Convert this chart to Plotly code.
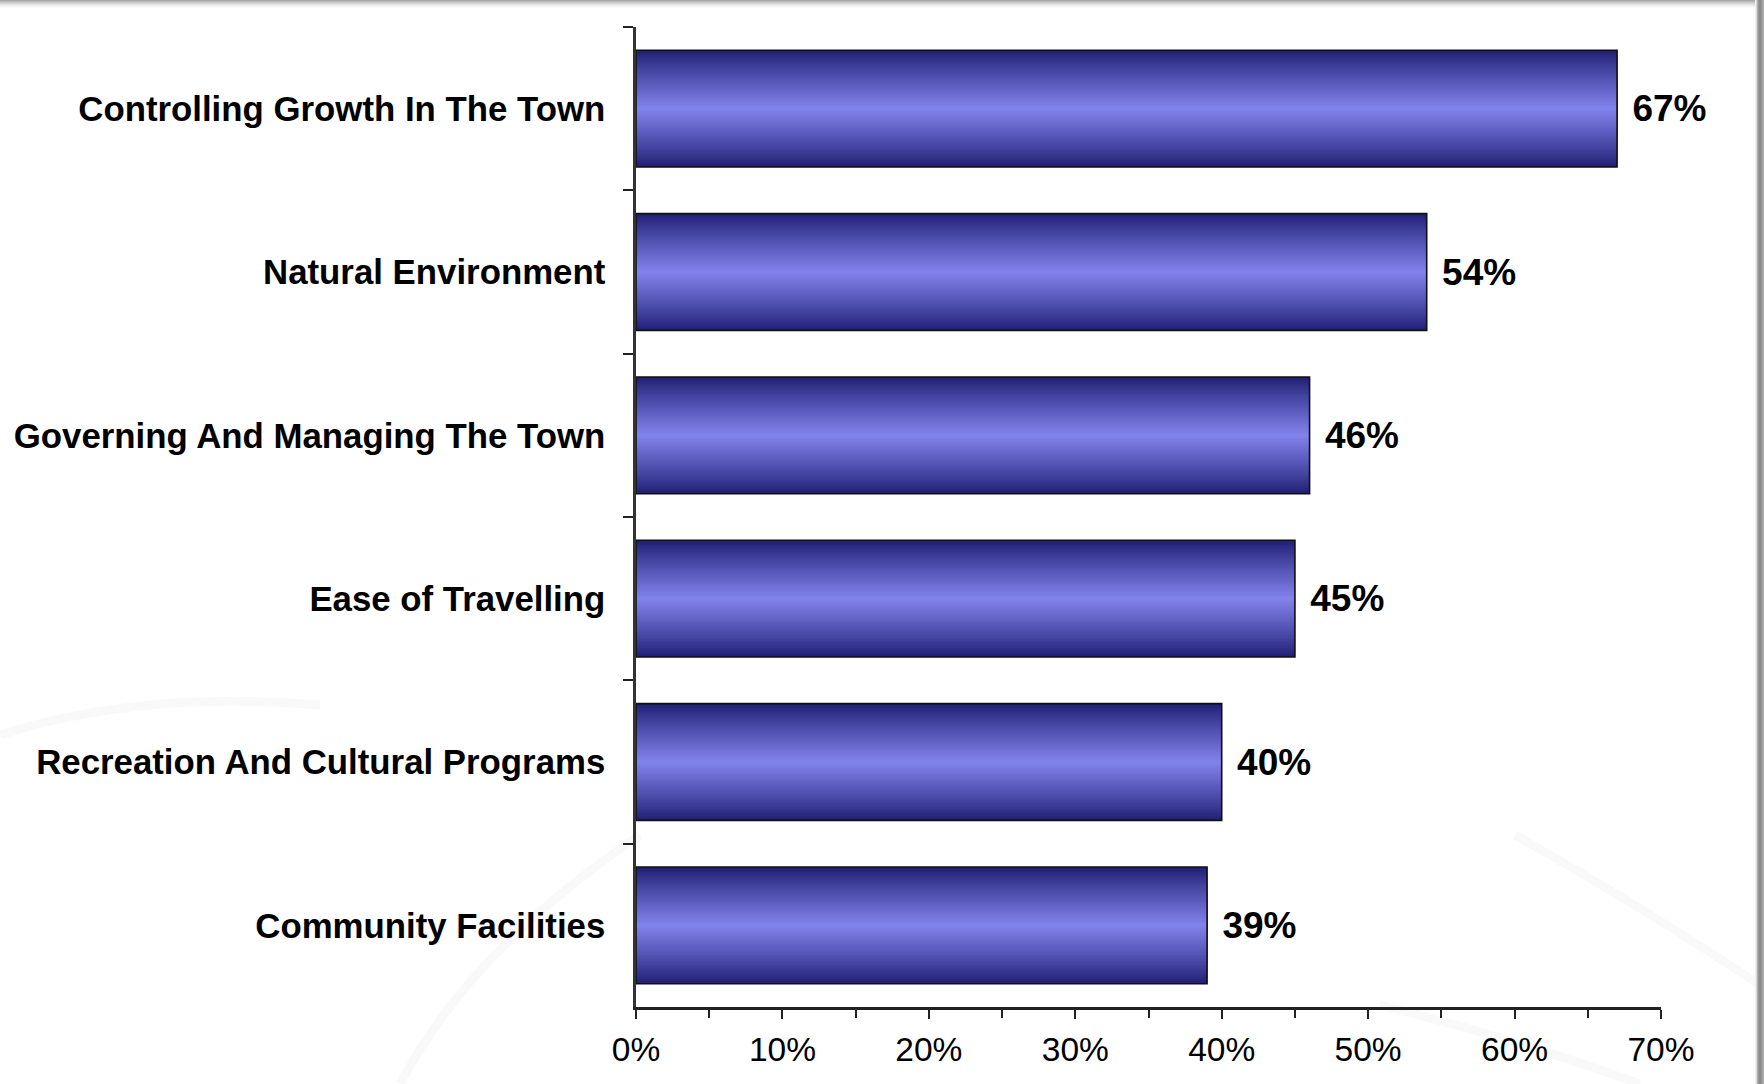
import plotly.graph_objects as go

# ---- data -------------------------------------------------------------
categories = [
    "Controlling Growth In The Town",
    "Natural Environment",
    "Governing And Managing The Town",
    "Ease of Travelling",
    "Recreation And Cultural Programs",
    "Community Facilities",
]
shares = [67, 54, 46, 45, 40, 39]
x_tick_values = [0, 10, 20, 30, 40, 50, 60, 70]
x_tick_labels = ["0%", "10%", "20%", "30%", "40%", "50%", "60%", "70%"]
x_minor_values = [5, 15, 25, 35, 45, 55, 65]

# ---- page geometry ----------------------------------------------------
W, H = 1764, 1084
ML, MR, MT, MB = 636, 103, 27, 77
FONT = "Arial, 'Liberation Sans', sans-serif"
BAR_WIDTH = 0.715

EDGE_RGB = (0x20, 0x20, 0x76)
MID_RGB = (0x84, 0x84, 0xEE)
LAYERS = 26


def mix(a, b, t):
    return "rgb(%d,%d,%d)" % tuple(round(a[i] + (b[i] - a[i]) * t) for i in range(3))


def px_x(x):
    return (x - ML) / (W - ML - MR)


def px_y(y):
    return 1 - (y - MT) / (H - MT - MB)


fig = go.Figure()

# cylinder-like shading: stacked bars, narrower and lighter toward the centre
for k in range(LAYERS):
    t = k / LAYERS
    fig.add_trace(go.Bar(
        y=categories, x=shares, orientation="h",
        width=BAR_WIDTH * (1 - t),
        marker=dict(color=mix(EDGE_RGB, MID_RGB, t ** 0.9), line=dict(width=0)),
        hoverinfo="skip", showlegend=False,
    ))

# outline and value labels
value_labels = ["\u2004%d%%" % v for v in shares]
fig.add_trace(go.Bar(
    y=categories, x=shares, orientation="h",
    width=BAR_WIDTH,
    marker=dict(color="rgba(0,0,0,0)", line=dict(color="#111111", width=1.6)),
    text=value_labels,
    textposition="outside",
    textfont=dict(family=FONT, size=37, color="#000000", weight="bold"),
    cliponaxis=False,
    hoverinfo="skip", showlegend=False,
))

# ---- faint decorative background swirls and frame ----------------------
def path(points):
    d = "M %f,%f" % (px_x(points[0][0]), px_y(points[0][1]))
    for i in range(1, len(points) - 1, 2):
        d += " Q %f,%f %f,%f" % (px_x(points[i][0]), px_y(points[i][1]),
                                 px_x(points[i + 1][0]), px_y(points[i + 1][1]))
    return d


swirls = [
    [(0, 735), (140, 690), (320, 705)],
    [(640, 835), (470, 950), (400, 1084)],
    [(1515, 835), (1640, 905), (1760, 985)],
    [(1380, 1005), (1520, 1040), (1640, 1084)],
]
shapes = []
for s in swirls:
    shapes.append(dict(type="path", path=path(s), xref="paper", yref="paper",
                       line=dict(color="rgba(0,0,0,0.022)", width=9), layer="below"))

# top frame band
band = ["#a8a8a8", "#b8b8b8", "#c8c8c8", "#d6d6d6", "#e2e2e2", "#ececec", "#f4f4f4", "#fafafa"]
for i, c in enumerate(band):
    shapes.append(dict(type="rect", xref="paper", yref="paper",
                       x0=px_x(0), x1=px_x(W), y0=px_y(i + 1), y1=px_y(i),
                       fillcolor=c, line=dict(width=0), layer="below"))
# right frame band
side = ["#f0f0f0", "#d8d8d8", "#b0b0b0", "#989898", "#8c8c8c", "#8c8c8c", "#959595", "#a0a0a0", "#b0b0b0"]
for i, c in enumerate(side):
    shapes.append(dict(type="rect", xref="paper", yref="paper",
                       x0=px_x(1755 + i), x1=px_x(1756 + i), y0=px_y(H), y1=px_y(0),
                       fillcolor=c, line=dict(width=0), layer="below"))

fig.update_layout(
    width=W, height=H,
    margin=dict(l=ML, r=MR, t=MT, b=MB, pad=0),
    paper_bgcolor="#ffffff", plot_bgcolor="rgba(0,0,0,0)",
    barmode="overlay",
    shapes=shapes,
    font=dict(family=FONT, color="#000000"),
    xaxis=dict(
        range=[0, 70], tickmode="array",
        tickvals=x_tick_values, ticktext=x_tick_labels,
        ticks="outside", ticklen=9, tickwidth=1.5, tickcolor="#222222",
        minor=dict(tickmode="array", tickvals=x_minor_values, ticks="outside",
                   ticklen=8, tickwidth=1.5, tickcolor="#222222"),
        showline=True, linecolor="#222222", linewidth=2.5,
        showgrid=False, zeroline=False,
        tickfont=dict(family=FONT, size=33.5, color="#000000"),
        ticklabelstandoff=2,
    ),
    yaxis=dict(
        categoryorder="array", categoryarray=categories,
        autorange="reversed",
        ticks="outside", tickson="boundaries", ticklen=10, tickwidth=1.5,
        tickcolor="#222222",
        showline=True, linecolor="#333333", linewidth=2.5,
        showgrid=False, zeroline=False,
        tickfont=dict(family=FONT, size=34.8, color="#000000", weight="bold"),
        ticklabelstandoff=21,
    ),
)

fig.write_html("out.html")
